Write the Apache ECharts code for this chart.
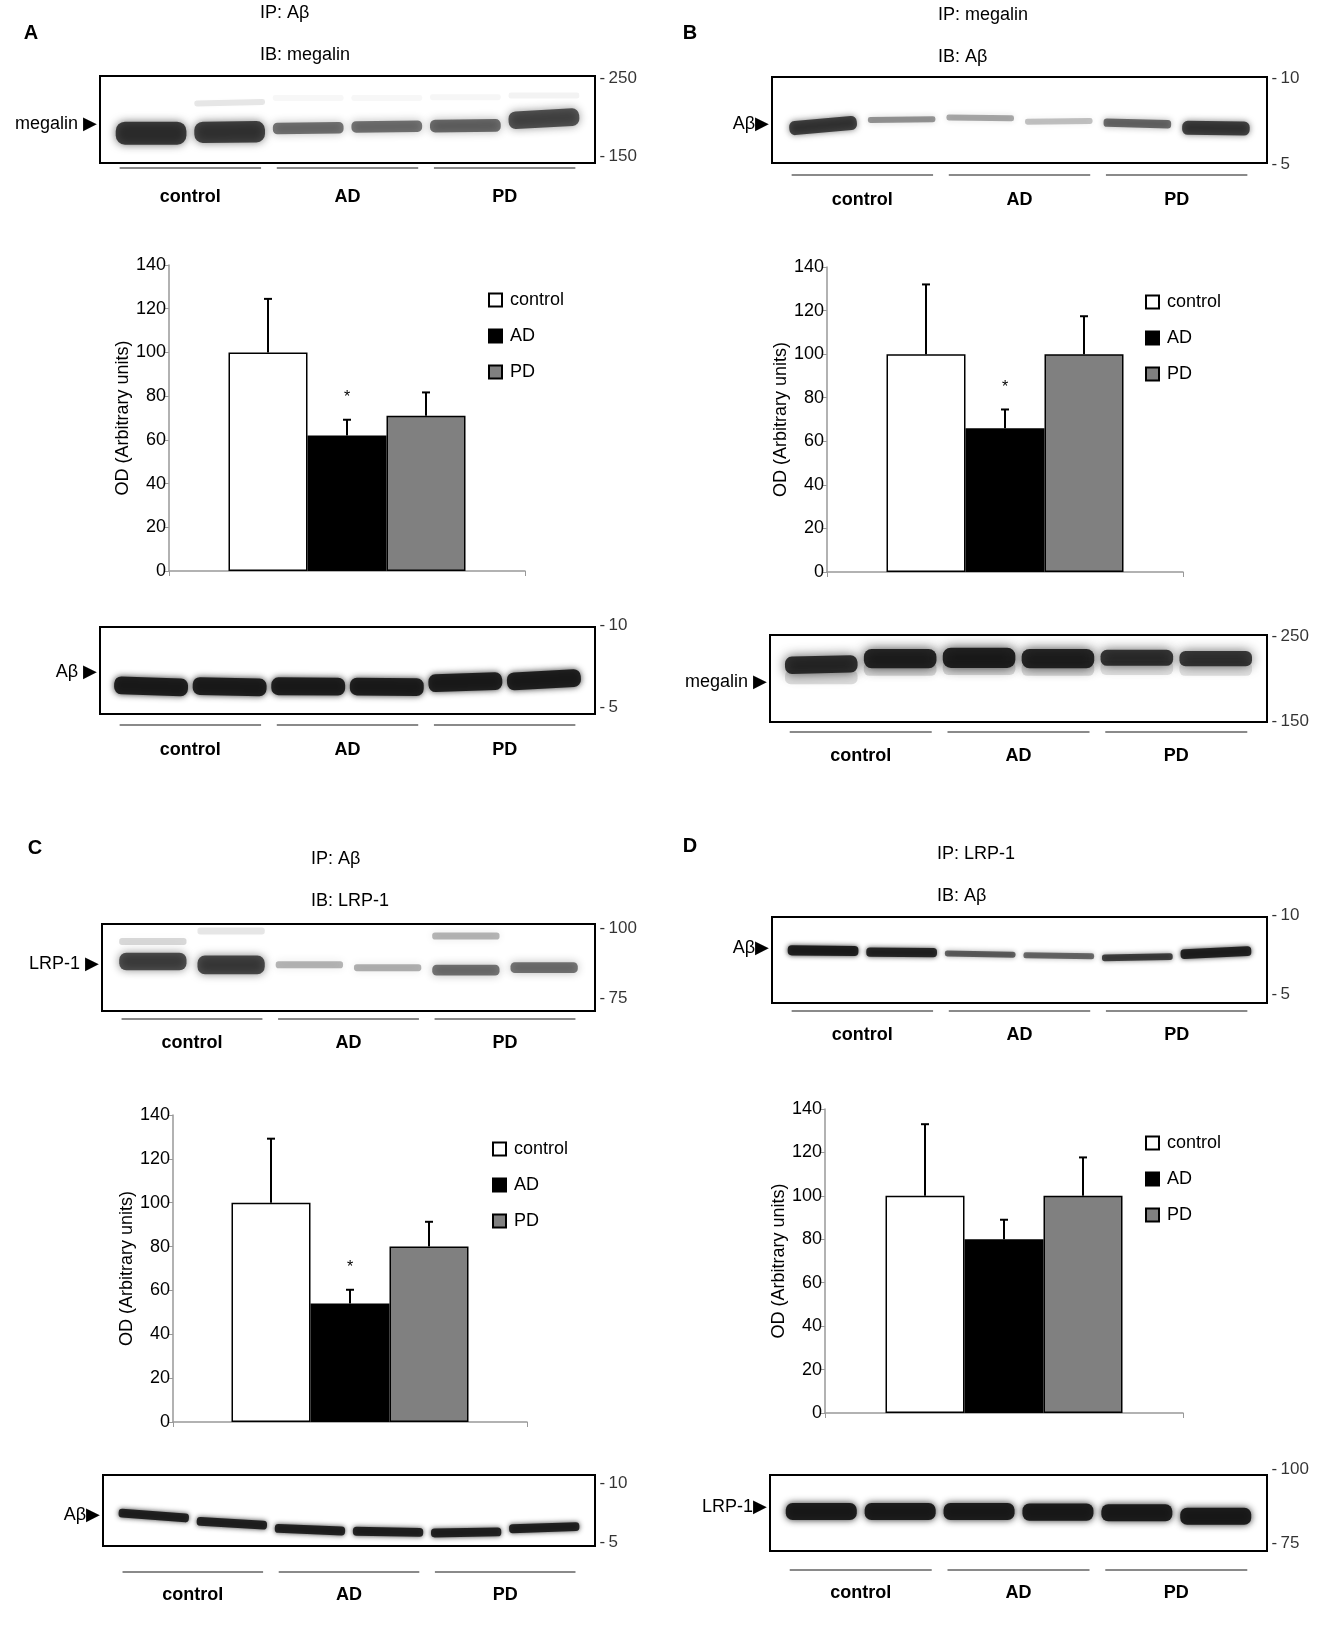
<!DOCTYPE html>
<html>
<head>
<meta charset="utf-8">
<script src="https://cdn.jsdelivr.net/npm/echarts@6/dist/echarts.min.js"></script>
<style>
html, body { margin: 0; padding: 0; background: #fff; }
#main { width: 1323px; height: 1650px; }
</style>
</head>
<body>
<div id="main"></div>
<script>
// ---- data ----
const groups = ['control', 'AD', 'PD']
const odTicks = [0, 140, 20]   // min, max, step of the OD axis

const odA = [100, 62, 71],  semA = [24.5, 7.2, 10.7], sigA = [0, 1, 0]
const odB = [100, 66, 100], semB = [32, 8.6, 17.4],   sigB = [0, 1, 0]
const odC = [100, 54, 80],  semC = [29.2, 6.3, 11.3], sigC = [0, 1, 0]
const odD = [100, 80, 100], semD = [33, 9, 17.7],     sigD = [0, 0, 0]

// size markers (kDa)
const mkMegalin = [250, 150]
const mkAbeta = [10, 5]
const mkLrp = [100, 75]

// bands: [lane, kDa at left end, kDa at right end, signal 0..1]
const bandsAtop = [
  [0, 180, 180, 0.78], [1, 181, 182, 0.75], [1, 218, 220, 0.1],
  [2, 186, 187, 0.55], [3, 188, 189, 0.55], [4, 189, 190, 0.58], [5, 196, 201, 0.68],
  [2, 225, 225, 0.035], [3, 225, 225, 0.035], [4, 226, 226, 0.04], [5, 228, 228, 0.05]
]
const bandsAbot = [
  [0, 6.35, 6.2, 0.92], [1, 6.3, 6.2, 0.92], [2, 6.28, 6.25, 0.92],
  [3, 6.26, 6.22, 0.92], [4, 6.45, 6.6, 0.92], [5, 6.55, 6.8, 0.92]
]
const bandsBtop = [
  [0, 7.1, 7.45, 0.75], [1, 7.6, 7.65, 0.42], [2, 7.75, 7.7, 0.35],
  [3, 7.5, 7.55, 0.25], [4, 7.45, 7.35, 0.58], [5, 7.15, 7.1, 0.75]
]
const bandsBbot = [
  [0, 216, 218, 0.85], [0, 202, 202, 0.14],
  [1, 224, 224, 0.9], [1, 212, 212, 0.16],
  [2, 225, 225, 0.92], [2, 213, 213, 0.15],
  [3, 224, 224, 0.9], [3, 212, 212, 0.15],
  [4, 225, 225, 0.82], [4, 213, 213, 0.12],
  [5, 224, 224, 0.8], [5, 212, 212, 0.12]
]
const bandsCtop = [
  [0, 88.2, 88.2, 0.7], [0, 95.3, 95.3, 0.16],
  [1, 87, 87, 0.72], [1, 99, 99, 0.1],
  [2, 87, 87, 0.3], [3, 86, 86, 0.32],
  [4, 85.1, 85.1, 0.55], [4, 97.2, 97.2, 0.3],
  [5, 86, 86, 0.55]
]
const bandsCbot = [
  [0, 7.5, 7.05, 0.9], [1, 6.8, 6.45, 0.9], [2, 6.2, 5.95, 0.9],
  [3, 5.95, 5.85, 0.9], [4, 5.8, 5.9, 0.9], [5, 6.15, 6.35, 0.9]
]
const bandsDtop = [
  [0, 7.8, 7.75, 0.92], [1, 7.68, 7.65, 0.88], [2, 7.6, 7.52, 0.62],
  [3, 7.48, 7.42, 0.58], [4, 7.32, 7.4, 0.75], [5, 7.55, 7.75, 0.9]
]
const bandsDbot = [
  [0, 85.8, 85.8, 0.95], [1, 85.8, 85.8, 0.95], [2, 85.8, 85.8, 0.95],
  [3, 85.6, 85.6, 0.95], [4, 85.4, 85.4, 0.95], [5, 84.2, 84.2, 0.95]
]

// ---- layout ----
const FONT = '"Liberation Sans", Arial, Helvetica, sans-serif'
const BAR_W = 79
const LANE_MIN = -0.65, LANE_MAX = 5.65

const panels = [
  { letter: 'A', lx: 31, ly: 33, ip: 'IP: Aβ', ib: 'IB: megalin', tx: 260, ty: [13, 55],
    grid: [169, 265, 356, 306], legend: [483, 286], od: odA, sem: semA, sig: sigA },
  { letter: 'B', lx: 690, ly: 33, ip: 'IP: megalin', ib: 'IB: Aβ', tx: 938, ty: [15, 57],
    grid: [827, 267, 356, 305], legend: [1140, 288], od: odB, sem: semB, sig: sigB },
  { letter: 'C', lx: 35, ly: 848, ip: 'IP: Aβ', ib: 'IB: LRP-1', tx: 311, ty: [859, 901],
    grid: [173, 1115, 354, 307], legend: [487, 1135], od: odC, sem: semC, sig: sigC },
  { letter: 'D', lx: 690, ly: 846, ip: 'IP: LRP-1', ib: 'IB: Aβ', tx: 937, ty: [854, 896],
    grid: [825, 1109, 358, 304], legend: [1140, 1129], od: odD, sem: semD, sig: sigD }
]

const blots = [
  { box: [100, 76, 495, 87], y: [142, 253], mk: mkMegalin, bands: bandsAtop, label: 'megalin ▶', labelY: 124,
    bandW: 0.9, bandH: 38, minH: 6, blur: 8, lineY: 168, textY: 197 },
  { box: [100, 627, 495, 87], y: [4.58, 9.9], mk: mkAbeta, bands: bandsAbot, label: 'Aβ ▶', labelY: 672,
    bandW: 0.94, bandH: 21, minH: 7, blur: 6, lineY: 725, textY: 750 },
  { box: [772, 77, 495, 86], y: [5.1, 10.1], mk: mkAbeta, bands: bandsBtop, label: 'Aβ▶', labelY: 124,
    bandW: 0.86, bandH: 25, minH: 6, blur: 6, lineY: 175, textY: 200 },
  { box: [770, 635, 497, 87], y: [149, 252], mk: mkMegalin, bands: bandsBbot, label: 'megalin ▶', labelY: 682,
    bandW: 0.92, bandH: 24, minH: 14, blur: 12, lineY: 732, textY: 756 },
  { box: [102, 924, 493, 87], y: [70.6, 101.5], mk: mkLrp, bands: bandsCtop, label: 'LRP-1 ▶', labelY: 964,
    bandW: 0.86, bandH: 36, minH: 7, blur: 8, lineY: 1019, textY: 1043 },
  { box: [103, 1475, 492, 71], y: [4.7, 10.7], mk: mkAbeta, bands: bandsCbot, label: 'Aβ▶', labelY: 1515,
    bandW: 0.9, bandH: 11, minH: 6, blur: 5, lineY: 1572, textY: 1595 },
  { box: [772, 917, 495, 86], y: [4.47, 9.9], mk: mkAbeta, bands: bandsDtop, label: 'Aβ▶', labelY: 948,
    bandW: 0.9, bandH: 12, minH: 6, blur: 5, lineY: 1011, textY: 1035 },
  { box: [770, 1475, 497, 76], y: [72.4, 98.2], mk: mkLrp, bands: bandsDbot, label: 'LRP-1▶', labelY: 1507,
    bandW: 0.9, bandH: 19, minH: 8, blur: 7, lineY: 1570, textY: 1593 }
]

function laneX(b, lane) {
  return b.box[0] + (lane - LANE_MIN) / (LANE_MAX - LANE_MIN) * b.box[2]
}

function renderErr(params, api) {
  const i = api.value(4), v = api.value(1), e = api.value(2), s = api.value(3)
  const base = api.coord([0, v]), top = api.coord([0, v + e])
  const x = base[0] + (i - 1) * BAR_W
  const kids = [
    { type: 'line', shape: { x1: x, y1: base[1], x2: x, y2: top[1] }, style: { stroke: '#000', lineWidth: 2 } },
    { type: 'line', shape: { x1: x - 4, y1: top[1], x2: x + 4, y2: top[1] }, style: { stroke: '#000', lineWidth: 2 } }
  ]
  if (s) {
    kids.push({ type: 'text', x: x, y: top[1] - 22,
      style: { text: '*', fill: '#000', font: '16px ' + FONT, align: 'center', verticalAlign: 'middle' } })
  }
  return { type: 'group', children: kids }
}

function bandRenderer(b) {
  return function (params, api) {
    const lane = api.value(0), kL = api.value(1), kR = api.value(2), s = api.value(3)
    const pL = api.coord([lane - b.bandW / 2, kL]), pR = api.coord([lane + b.bandW / 2, kR])
    const cx = (pL[0] + pR[0]) / 2, cy = (pL[1] + pR[1]) / 2
    const w = Math.hypot(pR[0] - pL[0], pR[1] - pL[1])
    const h = Math.max(b.minH, b.bandH * s * s)
    const ang = Math.atan2(pR[1] - pL[1], pR[0] - pL[0])
    const col = 'rgba(22,22,22,' + s + ')'
    return {
      type: 'rect', x: cx, y: cy, rotation: -ang,
      shape: { x: -w / 2, y: -h / 2, width: w, height: h, r: h / 2.5 },
      style: { fill: col, shadowBlur: b.blur, shadowColor: col }
    }
  }
}

const grid = [], xAxis = [], yAxis = [], series = [], legend = [], graphic = []

panels.forEach((p, k) => {
  grid.push({ left: p.grid[0], top: p.grid[1], width: p.grid[2], height: p.grid[3] })
  xAxis.push({
    gridIndex: k, type: 'category', data: [''],
    axisLine: { lineStyle: { color: '#999', width: 1.5 } },
    axisTick: { show: true, length: 5, lineStyle: { color: '#999' } },
    axisLabel: { show: false }
  })
  yAxis.push({
    gridIndex: k, type: 'value', min: odTicks[0], max: odTicks[1], interval: odTicks[2],
    name: 'OD (Arbitrary units)', nameLocation: 'middle', nameGap: 36, nameRotate: 90,
    nameTextStyle: { fontSize: 18, color: '#000', fontFamily: FONT },
    axisLine: { show: true, lineStyle: { color: '#999', width: 1.5 } },
    axisTick: { show: true, length: 4, lineStyle: { color: '#999' } },
    axisLabel: { fontSize: 18, color: '#000', margin: 3, fontFamily: FONT },
    splitLine: { show: false }
  })
  const fills = ['#ffffff', '#000000', '#808080']
  groups.forEach((g, i) => {
    series.push({
      type: 'bar', name: g, xAxisIndex: k, yAxisIndex: k, data: [p.od[i]],
      barWidth: BAR_W, barGap: '0%', animation: false,
      itemStyle: { color: fills[i], borderColor: '#000', borderWidth: 1.5 }
    })
  })
  series.push({
    type: 'custom', name: 'err' + k, xAxisIndex: k, yAxisIndex: k, z: 5, animation: false,
    renderItem: renderErr, encode: { x: 0, y: 1 },
    data: groups.map((g, i) => [0, p.od[i], p.sem[i], p.sig[i], i])
  })
  legend.push({
    left: p.legend[0], top: p.legend[1], orient: 'vertical', icon: 'rect',
    itemWidth: 13, itemHeight: 13, itemGap: 18, selectedMode: false,
    textStyle: { fontSize: 18, color: '#000', fontFamily: FONT, padding: [0, 0, 0, 3] },
    data: groups
  })
  graphic.push({ type: 'text', x: p.lx, y: p.ly,
    style: { text: p.letter, font: 'bold 20px ' + FONT, fill: '#000', align: 'center', verticalAlign: 'middle' } })
  graphic.push({ type: 'text', x: p.tx, y: p.ty[0],
    style: { text: p.ip, font: '18px ' + FONT, fill: '#000', verticalAlign: 'middle' } })
  graphic.push({ type: 'text', x: p.tx, y: p.ty[1],
    style: { text: p.ib, font: '18px ' + FONT, fill: '#000', verticalAlign: 'middle' } })
})

blots.forEach((b, j) => {
  const gi = panels.length + j
  grid.push({ left: b.box[0], top: b.box[1], width: b.box[2], height: b.box[3],
    show: true, borderColor: '#000', borderWidth: 2, backgroundColor: '#fff' })
  xAxis.push({ gridIndex: gi, type: 'value', min: LANE_MIN, max: LANE_MAX, show: false })
  yAxis.push({ gridIndex: gi, type: 'value', min: b.y[0], max: b.y[1], show: false })
  series.push({
    type: 'custom', name: 'blot' + j, xAxisIndex: gi, yAxisIndex: gi, clip: true, animation: false,
    renderItem: bandRenderer(b), encode: { x: 0, y: 1 }, data: b.bands
  })
  series.push({
    type: 'scatter', name: 'mk' + j, xAxisIndex: gi, yAxisIndex: gi, clip: false, animation: false,
    symbolSize: 1, itemStyle: { color: 'rgba(0,0,0,0)' }, silent: true,
    data: b.mk.map(m => [LANE_MAX, m]),
    label: { show: true, position: 'right', distance: 4, color: '#000', fontSize: 17, fontFamily: FONT,
      formatter: q => '-\u2009' + q.value[1] }
  })
  graphic.push({ type: 'text', x: b.box[0] - 3, y: b.labelY,
    style: { text: b.label, font: '18px ' + FONT, fill: '#000', align: 'right', verticalAlign: 'middle' } })
  groups.forEach((g, i) => {
    const c = laneX(b, 2 * i + 0.5)
    const half = 0.9 * b.box[2] / (LANE_MAX - LANE_MIN)
    graphic.push({ type: 'line', shape: { x1: c - half, y1: b.lineY, x2: c + half, y2: b.lineY },
      style: { stroke: '#8a8a8a', lineWidth: 2 } })
    graphic.push({ type: 'text', x: c, y: b.textY,
      style: { text: g, font: 'bold 18px ' + FONT, fill: '#000', align: 'center', verticalAlign: 'middle' } })
  })
})

const chart = echarts.init(document.getElementById('main'))
chart.setOption({
  animation: false,
  backgroundColor: '#fff',
  textStyle: { fontFamily: FONT },
  grid, xAxis, yAxis, series, legend, graphic
})
</script>
</body>
</html>
